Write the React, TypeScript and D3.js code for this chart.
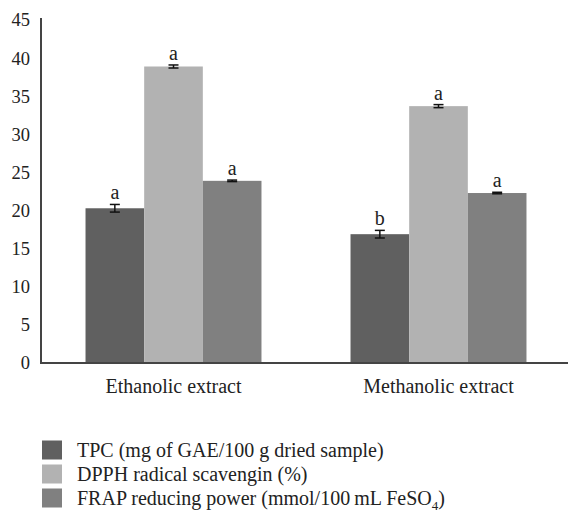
import React, { useEffect, useRef } from 'react';
import * as d3 from 'd3';

const groups = ['Ethanolic extract', 'Methanolic extract'];
const seriesNames = ['TPC', 'DPPH', 'FRAP'];
const tpcValues = [20.3, 16.9];
const dpphValues = [38.9, 33.7];
const frapValues = [23.9, 22.3];
const tpcErrors = [0.5, 0.5];
const dpphErrors = [0.2, 0.2];
const frapErrors = [0.1, 0.1];
const tpcLetters = ['a', 'b'];
const dpphLetters = ['a', 'a'];
const frapLetters = ['a', 'a'];
const yTicks = [0, 5, 10, 15, 20, 25, 30, 35, 40, 45];
const colors = ['#606060', '#b2b2b2', '#808080'];

const FONT = '"Liberation Serif", "Times New Roman", serif';

export default function App() {
  const svgRef = useRef<SVGSVGElement>(null);

  useEffect(() => {
    const svg = d3.select(svgRef.current);
    svg.selectAll('*').remove();

    const values = [tpcValues, dpphValues, frapValues];
    const errors = [tpcErrors, dpphErrors, frapErrors];
    const letters = [tpcLetters, dpphLetters, frapLetters];

    const data: any[] = [];
    groups.forEach((g, gi) => {
      seriesNames.forEach((s, si) => {
        data.push({ group: g, series: s, si, value: values[si][gi], err: errors[si][gi], letter: letters[si][gi] });
      });
    });

    const x0 = d3.scaleBand().domain(groups).range([41, 571]).paddingInner(0.336).paddingOuter(0.168);
    const x1 = d3.scaleBand().domain(seriesNames).range([0, x0.bandwidth()]).padding(0);
    const y = d3.scaleLinear().domain([0, 45]).range([363, 20]);

    // y axis
    const yAxis = svg.append('g').attr('transform', 'translate(41,0)')
      .call(d3.axisLeft(y).tickValues(yTicks).tickSize(0).tickPadding(11));
    yAxis.select('.domain').attr('stroke', '#444').attr('stroke-width', 2)
      .attr('d', `M0,${y(45) - 2}V${y(0)}`);
    yAxis.selectAll('text').attr('font-family', FONT).attr('font-size', 18.5).attr('fill', '#222');

    // bars
    svg.append('g').selectAll('rect').data(data).enter().append('rect')
      .attr('x', d => x0(d.group)! + x1(d.series)!)
      .attr('y', d => y(d.value))
      .attr('width', x1.bandwidth())
      .attr('height', d => y(0) - y(d.value))
      .attr('fill', d => colors[d.si]);

    // error bars
    const eb = svg.append('g').attr('stroke', '#111').attr('stroke-width', 1.5);
    data.forEach(d => {
      const cx = x0(d.group)! + x1(d.series)! + x1.bandwidth() / 2;
      eb.append('line').attr('x1', cx).attr('x2', cx).attr('y1', y(d.value + d.err)).attr('y2', y(d.value - d.err));
      eb.append('line').attr('x1', cx - 5).attr('x2', cx + 5).attr('y1', y(d.value + d.err)).attr('y2', y(d.value + d.err));
      eb.append('line').attr('x1', cx - 5).attr('x2', cx + 5).attr('y1', y(d.value - d.err)).attr('y2', y(d.value - d.err));
    });

    // significance letters
    svg.append('g').selectAll('text').data(data).enter().append('text')
      .attr('x', d => x0(d.group)! + x1(d.series)! + x1.bandwidth() / 2)
      .attr('y', d => y(d.value + d.err) - 5)
      .attr('text-anchor', 'middle')
      .attr('font-family', FONT).attr('font-size', 20).attr('fill', '#222')
      .text(d => d.letter);

    // x axis
    const xAxis = svg.append('g').attr('transform', `translate(0,${y(0)})`)
      .call(d3.axisBottom(x0).tickSize(0).tickPadding(16));
    xAxis.select('.domain').attr('stroke', '#444').attr('stroke-width', 2).attr('d', 'M40,0H568');
    xAxis.selectAll('text').attr('font-family', FONT).attr('font-size', 20).attr('fill', '#222');

    // legend
    const legendLabels = ['TPC (mg of GAE/100 g dried sample)', 'DPPH radical scavengin (%)', 'FRAP reducing power (mmol/100\u2009mL FeSO'];
    const lg = svg.append('g');
    legendLabels.forEach((lab, i) => {
      const yy = 450 + i * 24;
      lg.append('rect').attr('x', 42).attr('y', yy - 9.5).attr('width', 20).attr('height', 19).attr('fill', colors[i]);
      const t = lg.append('text').attr('x', 77).attr('y', yy + 7)
        .attr('font-family', FONT).attr('font-size', 20).attr('fill', '#222').text(lab);
      if (i === 2) {
        t.append('tspan').attr('font-size', 13).attr('dy', 5).text('4');
        t.append('tspan').attr('dy', -5).text(')');
      }
    });
  }, []);

  return (
    <svg ref={svgRef} width={568} height={519} style={{ position: 'absolute', left: 0, top: 0, background: '#fff' }} />
  );
}
